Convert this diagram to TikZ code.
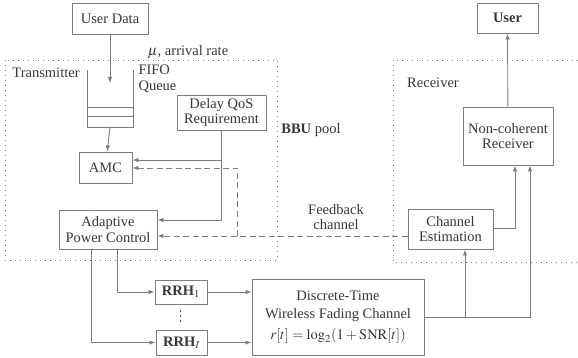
\documentclass[tikz,border=0pt]{standalone}
\usepackage{mathptmx}
\usepackage{fontspec}
\setmainfont{Liberation Serif}
\usepackage{tikz}
\usetikzlibrary{arrows.meta, positioning, calc}
\definecolor{linegray}{RGB}{125,125,125}
\definecolor{textgray}{RGB}{55,55,55}

\begin{document}
\begin{tikzpicture}[x=1pt, y=-1pt,
    every node/.style={text=textgray, font=\fontsize{14.5}{15.5}\selectfont},
    blk/.style={draw=linegray, line width=0.9pt, align=center, inner sep=1pt},
    conn/.style={draw=linegray, line width=0.9pt, -{Latex[length=6pt,width=4.5pt]}},
    fb/.style={conn, dash pattern=on 6pt off 3.5pt},
    pool/.style={draw=linegray, line width=0.6pt, dash pattern=on 0.7pt off 4.3pt}
  ]
  \useasboundingbox (0,0) rectangle (578,358);

  % dotted regions
  \draw[pool] (5,60) rectangle (277,260);
  \draw[pool] (578,60) -- (393,60) -- (393,262) -- (578,262);

  % blocks
  \node[blk, minimum width=76pt, minimum height=31pt] (userdata) at (110,18.5) {User Data};
  \node[blk, minimum width=53pt, minimum height=31pt] (amc) at (105.5,167.5) {AMC};
  \node[blk, minimum width=89pt, minimum height=35pt] (qos) at (221.5,112.5) {Delay QoS\\Requirement};
  \node[blk, minimum width=98pt, minimum height=39pt] (apc) at (108,229.5) {Adaptive\\Power Control};
  \node[blk, minimum width=52pt, minimum height=24pt] (rrh1) at (181,292) {\textbf{RRH}$_{1}$};
  \node[blk, minimum width=51pt, minimum height=25pt] (rrhI) at (181.5,342.5) {\textbf{RRH}$_{I}$};
  \node[blk, minimum width=172pt, minimum height=76pt] (chan) at (338,317)
    {Discrete-Time\\[2.5pt]Wireless Fading Channel\\[5pt]$r[t]=\log_2(1+\mathrm{SNR}[t])$};
  \node[blk, minimum width=85pt, minimum height=40pt] (est) at (450.5,229) {Channel\\Estimation};
  \node[blk, minimum width=90pt, minimum height=58pt] (ncr) at (508,136) {Non-coherent\\Receiver};
  \node[blk, minimum width=61pt, minimum height=30pt] (user) at (507.5,18) {\textbf{User}};

  % FIFO queue
  \draw[linegray, line width=0.9pt] (87,70) -- (87,127) -- (133,127) -- (133,70);
  \draw[linegray, line width=0.9pt] (87,107) -- (133,107) (87,116) -- (133,116);
  \coordinate (qin) at (110,83);
  \coordinate (qout) at (110,127);

  % labels
  \node (rate) at (188,52) {$\mu$, arrival rate};
  \node (tx) at (46,73) {Transmitter};
  \node[align=left, anchor=west] (fifo) at (135,79) {FIFO\\Queue};
  \node (bbu) at (311,130) {\textbf{BBU} pool};
  \node (rx) at (433,83) {Receiver};
  \node[align=center] (fbl) at (336,217) {Feedback\\channel};
  \foreach \y in {311,316,321}
    \fill[textgray] (180.5,\y) circle (0.9pt);

  % connectors
  \draw[conn] (userdata) -- (qin);
  \draw[conn] (qout) -- (amc);
  \draw[conn] (qos.south) -- (qos.south |- 0,220) -- (apc.east |- 0,220);
  \draw[conn] (qos.south |- 0,160) -- (amc.east |- 0,160);
  \draw[fb] (est.west |- 0,236) -- (apc.east |- 0,236);
  \draw[fb] (237,236) -- (237,168) -- (amc.east |- 0,168);
  \draw[conn] (apc.south -| 117,0) |- (rrh1.west);
  \draw[conn] (apc.south -| 91,0) |- (rrhI.west);
  \draw[conn] (rrh1.east) -- (chan.west |- rrh1.east);
  \draw[conn] (rrhI.east) -- (chan.west |- rrhI.east);
  \draw[conn] (chan.east) -| (ncr.south -| 530,0);
  \draw[conn] (465,317) -- (est.south -| 465,0);
  \draw[conn] (est.east |- 0,228) -| (ncr.south -| 515,0);
  \draw[conn] (ncr) -- (user);
\end{tikzpicture}
\end{document}
